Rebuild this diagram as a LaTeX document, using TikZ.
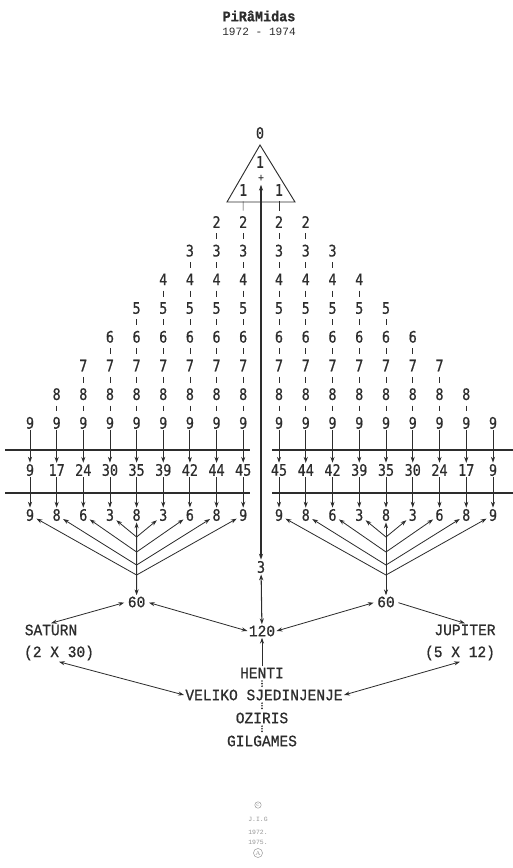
\documentclass[tikz,border=0pt]{standalone}
\usepackage{fontspec}
\setmonofont{Liberation Mono}
\newfontfamily\digitfont[FakeStretch=0.85, FakeBold=0.6]{DejaVu Sans Mono}
\newfontfamily\labelfont[FakeStretch=0.92, FakeBold=0.8]{Liberation Mono}
\definecolor{inkgray}{RGB}{45,45,45}
\definecolor{faintgray}{RGB}{150,150,150}
\usetikzlibrary{positioning,arrows.meta,calc}

\tikzset{
    num/.style={font=\digitfont\fontsize{13.5}{13.5}\selectfont, inner sep=1pt, text=inkgray},
    lbl/.style={font=\labelfont\fontsize{13.5}{14}\selectfont, inner sep=1pt, text=inkgray},
    tick/.style={draw=inkgray, line width=0.5pt, shorten <=3.5pt, shorten >=3.5pt},
    arr/.style={draw=inkgray, line width=0.7pt, -{Stealth[length=5pt,width=3.5pt]}},
    darr/.style={draw=inkgray, line width=0.7pt, {Stealth[length=5pt,width=3.5pt]}-{Stealth[length=5pt,width=3.5pt]}},
    rule/.style={draw=inkgray, line width=1.3pt},
    colon/.style={draw=inkgray, line width=1.6pt, line cap=round, dash pattern=on 0pt off 2.2pt, shorten <=1.2pt, shorten >=0.5pt},
}

\begin{document}
\begin{tikzpicture}[x=0.03cm, y=-0.03cm]
    \useasboundingbox (0,0) rectangle (513,868);

    % Title
    \node[font=\labelfont\bfseries\fontsize{12.5}{12}\selectfont, text=inkgray] (title) at (259,16) {PiRâMidas};
    \node[font=\ttfamily\fontsize{9.5}{10}\selectfont, text=inkgray] (years) at (259,32) {1972 - 1974};

    % Triangle
    \draw[inkgray, line width=0.8pt] (260,145) -- (227,202) -- (295,202) -- cycle;
    \node[num] (zero) at (260,133) {0};
    \node[num, inner sep=0pt] (one) at (260,162) {1};
    \node[num, inner sep=0pt, font=\digitfont\fontsize{9}{9}\selectfont] (plus) at (261,178) {+};
    \node[num] (oneL) at (243.2,190) {1};
    \node[num] (oneR) at (279,190) {1};

    % Columns, sums and digit sums
    \foreach \i/\s/\d in {1/9/9, 2/17/8, 3/24/6, 4/30/3, 5/35/8, 6/39/3, 7/42/6, 8/44/8, 9/45/9}{
        \pgfmathtruncatemacro{\first}{max(2,10-\i)}
        \foreach \v [remember=\v as \p (initially 0)] in {\first,...,9}{
            \node[num] (L\i-\v) at ({30+(\i-1)*26.65}, {222+(\v-2)*28.7}) {\v};
            \node[num] (R\i-\v) at ({493-(\i-1)*26.75}, {222+(\v-2)*28.7}) {\v};
            \ifnum\p>0
                \draw[tick] (L\i-\p) -- (L\i-\v);
                \draw[tick] (R\i-\p) -- (R\i-\v);
            \fi
        }
        \node[num] (LS\i) at ({30+(\i-1)*26.65}, 470) {\s};
        \node[num] (RS\i) at ({493-(\i-1)*26.75}, 470) {\s};
        \node[num] (LD\i) at ({30+(\i-1)*26.65}, 515) {\d};
        \node[num] (RD\i) at ({493-(\i-1)*26.75}, 515) {\d};
        \draw[arr] (L\i-9) -- (LS\i);
        \draw[arr] (LS\i) -- (LD\i);
        \draw[arr] (R\i-9) -- (RS\i);
        \draw[arr] (RS\i) -- (RD\i);
    }
    \draw[tick] (oneL) -- (L9-2);
    \draw[tick] (oneR) -- (R9-2);

    % Horizontal rules
    \draw[rule] (5,450) -- (250,450);
    \draw[rule] (5,493) -- (250,493);
    \draw[rule] (272,450) -- (513,450);
    \draw[rule] (272,493) -- (513,493);

    % Central axis
    \node[num] (three) at (261,567) {3};
    \node[lbl] (N120) at (262,631) {120};
    \draw[darr, line width=0.9pt, shorten <=3pt] (plus) -- (three);
    \draw[darr, line width=0.9pt] (three) -- (N120);

    % Fans
    \node[lbl] (L60) at (136.6,602) {60};
    \node[lbl] (R60) at (386,602) {60};
    \draw[darr] (LD5) -- (L60);
    \draw[darr] (RD5) -- (R60);
    \foreach \a/\b/\y in {4/6/537, 3/7/552, 2/8/565, 1/9/575}{
        \coordinate (LF\a) at (136.6,\y);
        \coordinate (RF\a) at (386,\y);
        \draw[arr, shorten >=1pt] (LF\a) -- (LD\a);
        \draw[arr, shorten >=1pt] (LF\a) -- (LD\b);
        \draw[arr, shorten >=1pt] (RF\a) -- (RD\a);
        \draw[arr, shorten >=1pt] (RF\a) -- (RD\b);
    }

    % Planets
    \node[lbl] (SAT) at (51,630) {SATURN};
    \node[lbl] (S30) at (59,653) {(2 X 30)};
    \node[lbl] (JUP) at (465,630) {JUPITER};
    \node[lbl] (S12) at (460,653) {(5 X 12)};
    \draw[darr, shorten <=2pt] (L60.west) -- (SAT.north);
    \draw[darr, shorten <=2pt] (L60.east) -- (N120.west);
    \draw[darr, shorten <=2pt] (R60.west) -- (N120.east);
    \draw[arr, shorten <=2pt] (R60.east) -- (JUP.north);

    % Names
    \node[lbl] (HEN) at (262,673) {HENTI};
    \node[lbl] (VEL) at (264,695) {VELIKO SJEDINJENJE};
    \node[lbl] (OZI) at (262,718) {OZIRIS};
    \node[lbl] (GIL) at (262,741) {GILGAMES};
    \draw[arr] (HEN) -- (N120);
    \draw[colon] (HEN) -- (OZI |- VEL.north);
    \draw[colon] (OZI |- VEL.south) -- (OZI);
    \draw[colon] (OZI) -- (GIL);
    \draw[darr] (S30.south) -- (VEL.west);
    \draw[darr] (S12.south) -- (VEL.east);

    % Signature
    \node[circle, draw=faintgray, inner sep=0.6pt, font=\fontsize{5}{5}\selectfont, text=faintgray] (copy) at (258,805) {c};
    \node[font=\ttfamily\fontsize{5.5}{6}\selectfont, text=faintgray] (sig1) at (258,819) {J.I.G};
    \node[font=\ttfamily\fontsize{5.5}{6}\selectfont, text=faintgray] (sig2) at (258,832) {1972.};
    \node[font=\ttfamily\fontsize{5.5}{6}\selectfont, text=faintgray] (sig3) at (258,842) {1975.};
    \node[circle, draw=faintgray, inner sep=0.6pt, font=\fontsize{5}{5}\selectfont, text=faintgray] (mark) at (258,853) {A};
\end{tikzpicture}
\end{document}
